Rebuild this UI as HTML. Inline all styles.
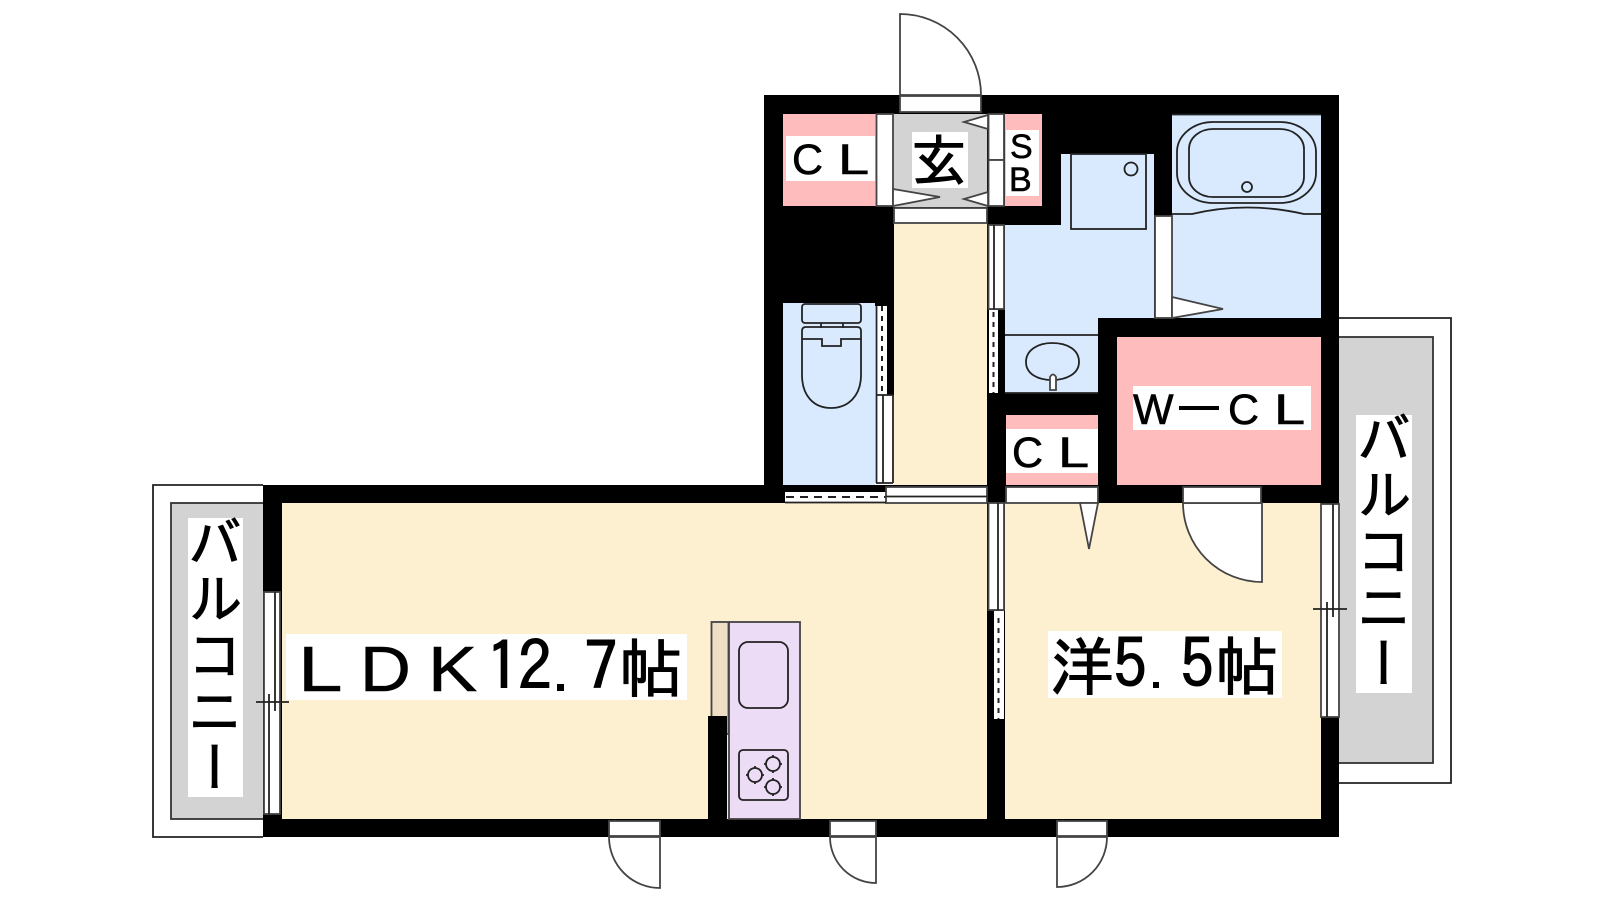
<!DOCTYPE html>
<html><head><meta charset="utf-8"><style>
html,body{margin:0;padding:0;background:#fff}
svg{display:block}
.j{font-family:"IPAGothic","Noto Sans CJK JP",sans-serif;fill:#000;stroke:#000;stroke-width:1}
.l{font-family:"Liberation Sans",sans-serif;fill:#000;stroke:#000;stroke-width:.6}
.v{font-family:"Noto Sans CJK JP",sans-serif;font-size:54px;letter-spacing:2.5px;writing-mode:vertical-rl;fill:#000;stroke:#000;stroke-width:1}
.s{fill:none;stroke:#222;stroke-width:1.8}
.w{fill:#fff;stroke:#444;stroke-width:1.8}
</style></head><body>
<svg width="1600" height="900" viewBox="0 0 1600 900" xmlns="http://www.w3.org/2000/svg">
<rect width="1600" height="900" fill="#fff"/>

<!-- balconies -->
<path class="s" stroke="#555" d="M263 485H153V837H263"/>
<rect x="171" y="503" width="95" height="316" fill="#d3d3d3" stroke="#333" stroke-width="1.8"/>
<path class="s" d="M1339 318H1451V783H1339"/>
<rect x="1336" y="337" width="97" height="426" fill="#d3d3d3" stroke="#333" stroke-width="1.8"/>

<!-- black building -->
<rect x="764" y="95" width="575" height="410" fill="#000"/>
<rect x="263" y="485" width="1076" height="352" fill="#000"/>

<!-- rooms -->
<rect x="282" y="503" width="705" height="316" fill="#fdf0d0"/>
<rect x="1005" y="503" width="316" height="316" fill="#fdf0d0"/>
<rect x="894" y="223" width="93" height="262" fill="#fdf0d0"/>
<rect x="783" y="303" width="92" height="182" fill="#d9eaff"/>
<path fill="#d9eaff" d="M1061 154H1154V318H1098V393H1005V225H1061Z"/>
<rect x="1172" y="114" width="149" height="204" fill="#d9eaff"/>
<rect x="783" y="114" width="93" height="92" fill="#ffbcbc"/>
<rect x="1005" y="114" width="37" height="92" fill="#ffbcbc"/>
<rect x="1117" y="337" width="204" height="148" fill="#ffbcbc"/>
<rect x="1006" y="415" width="92" height="70" fill="#ffbcbc"/>
<rect x="893" y="114" width="94" height="93" fill="#d3d3d3"/>
<path class="s" stroke="#555" d="M1172 114.500H1321"/>

<!-- entrance -->
<path class="w" stroke="#222" d="M900 95V14A81 81 0 0 1 981 95Z"/>
<rect class="w" x="900" y="96" width="81" height="16"/>
<rect class="w" x="894" y="208" width="93" height="15"/>
<rect class="w" x="876.500" y="114" width="16.500" height="92"/>
<rect class="w" x="988.500" y="114" width="15.500" height="46"/>
<rect class="w" x="988.500" y="160" width="15.500" height="46"/>
<path class="w" stroke="#222" d="M988 115L964 122L988 129Z"/>
<path class="w" stroke="#222" d="M988 192L964 199L988 206Z"/>
<path class="w" stroke="#222" d="M893 189L940 197L893 206Z"/>

<!-- wash door / corridor right -->
<rect x="987" y="225" width="18" height="168" fill="#000"/>
<rect class="w" x="988.500" y="225" width="15.500" height="84"/>
<path class="s" d="M994 225V309"/>
<rect x="989" y="310" width="9" height="83" fill="#fff"/>
<path d="M993.500 312V393" stroke="#222" stroke-width="2" stroke-dasharray="5 5" fill="none"/>

<!-- bath door -->
<rect class="w" x="1155" y="216" width="17" height="102"/>
<path class="w" stroke="#222" d="M1172 297L1223 309L1172 318Z"/>

<!-- washer -->
<rect class="s" x="1071" y="154" width="75" height="75"/>
<circle class="s" cx="1131" cy="169" r="6.500"/>

<!-- bathtub -->
<rect class="s" x="1177" y="122" width="139" height="81" rx="36" ry="30"/>
<rect class="s" x="1189" y="129" width="115" height="68" rx="24" ry="20"/>
<circle class="s" cx="1247" cy="187" r="5"/>
<path class="s" d="M1172 214H1192Q1247 201 1304 214H1321"/>

<!-- sink -->
<path class="s" d="M1005 335H1098"/>
<path class="s" d="M1005 393H1098" stroke="#666"/>
<path class="s" d="M1026 362C1026 350 1038 343 1052 343C1068 343 1079 350 1079 362C1079 374 1066 380 1052 380C1038 380 1026 374 1026 362Z"/>
<path class="w" stroke="#222" d="M1050 390V377Q1053 372 1056 377V390Z"/>
<rect x="1005" y="395" width="93" height="20" fill="#000"/>

<!-- toilet -->
<rect class="s" x="802" y="304" width="59" height="19" rx="3"/>
<path class="s" d="M821 323V328M843 323V328"/>
<path class="s" d="M802 331Q802 327 806 327H857Q861 327 861 331V375C861 396 848 408 831 408C814 408 802 396 802 375Z"/>
<path class="s" d="M802 339H822V346H841V339H861"/>

<!-- toilet door -->
<rect x="875" y="306" width="19" height="179" fill="#fff"/>
<rect x="887" y="306" width="7" height="89" fill="#000"/>
<path d="M882 306V395" stroke="#222" stroke-width="2" stroke-dasharray="5 5" fill="none"/>
<path class="s" d="M876.500 306V483M883 395V483M893 395V483M876 395H893M876 483H893"/>

<!-- horizontal doors -->
<rect x="785" y="492" width="101" height="10" fill="#fff"/>
<path d="M786 497H886" stroke="#222" stroke-width="2" stroke-dasharray="8 6" fill="none"/>
<rect class="w" x="886" y="487" width="101" height="16"/>
<path class="s" d="M886 496.500H987M785 502.500H886"/>
<rect class="w" x="1006" y="487" width="92" height="16"/>
<path class="w" stroke="#222" d="M1080 503L1098 503L1089 549Z"/>
<path d="M1183 503H1262V582A79 79 0 0 1 1183 503Z" class="w" stroke="#222"/>
<rect class="w" x="1183" y="487" width="78" height="16"/>

<!-- corridor to room vertical -->
<rect x="987" y="503" width="18" height="316" fill="#000"/>
<rect class="w" x="988.500" y="503" width="15.500" height="107"/>
<path class="s" d="M998 503V610"/>
<rect x="994" y="611" width="10" height="108" fill="#fff"/>
<path d="M998.500 618V719" stroke="#222" stroke-width="2" stroke-dasharray="5 5" fill="none"/>

<!-- left window -->
<rect class="w" x="264" y="592" width="16" height="222" fill="#fff"/>
<path class="s" d="M275 592V711M269 694V814M256 702H289"/>
<!-- right window -->
<rect class="w" x="1321" y="504" width="18" height="213" fill="#fff"/>
<path class="s" d="M1333 504V617M1327 602V717M1313 609H1347"/>

<!-- kitchen -->
<rect x="711.500" y="622" width="17" height="112" fill="#eedec6" stroke="#444" stroke-width="1.800"/>
<rect x="729" y="622" width="71" height="197" fill="#ecdcf5" stroke="#444" stroke-width="1.800"/>
<rect x="708" y="716" width="19" height="103" fill="#000"/>
<rect class="s" x="739" y="642" width="49" height="66" rx="9"/>
<rect class="s" x="739" y="750" width="49" height="50" rx="4"/>
<g class="s">
<circle cx="755" cy="775" r="7"/><path d="M746 775H764M755 766V784" stroke-dasharray="2 14"/>
<circle cx="773" cy="764" r="7"/><path d="M764 764H782M773 755V773" stroke-dasharray="2 14"/>
<circle cx="773" cy="787" r="7"/><path d="M764 787H782M773 778V796" stroke-dasharray="2 14"/>
</g>

<!-- bottom doors -->
<rect class="w" x="609" y="821" width="51" height="15"/>
<path class="w" stroke="#222" d="M609 837H660V888A51 51 0 0 1 609 837Z"/>
<rect class="w" x="830" y="821" width="46" height="15"/>
<path class="w" stroke="#222" d="M830 837H876V883A46 46 0 0 1 830 837Z"/>
<rect class="w" x="1057" y="821" width="50" height="15"/>
<path class="w" stroke="#222" d="M1057 837H1107A50 50 0 0 1 1057 887Z"/>

<!-- label backgrounds -->
<g fill="#fff">
<rect x="786" y="136" width="89" height="45"/>
<rect x="912" y="132" width="56" height="56"/>
<rect x="1006" y="130" width="33" height="66"/>
<rect x="1133" y="386" width="178" height="44"/>
<rect x="1006" y="429" width="92" height="44"/>
<rect x="188" y="518" width="55" height="279"/>
<rect x="1356" y="415" width="56" height="278"/>
<rect x="286" y="634" width="401" height="66"/>
<rect x="1048" y="631" width="234" height="67"/>
</g>

<!-- labels -->
<text class="l" font-size="43" x="792" y="174">C</text>
<text class="l" font-size="43" transform="translate(838 174) scale(1.3 1)">L</text>
<text class="j" font-size="56" x="911" y="181">玄</text>
<text class="l" font-size="34" x="1010" y="158">S</text>
<text class="l" font-size="34" x="1009" y="191">B</text>
<text class="l" font-size="43" x="1133" y="424">W</text>
<rect x="1179" y="406" width="40" height="4" fill="#000"/>
<text class="l" font-size="43" x="1228" y="424">C</text>
<text class="l" font-size="43" transform="translate(1274 424) scale(1.3 1)">L</text>
<text class="l" font-size="43" x="1012" y="467">C</text>
<text class="l" font-size="43" transform="translate(1058 467) scale(1.3 1)">L</text>

<text class="l" font-size="64" transform="translate(298 691) scale(1.25 1)">L</text>
<text class="l" font-size="64" transform="translate(360 691) scale(1.1 1)">D</text>
<text class="l" font-size="64" transform="translate(428 691) scale(1.15 1)">K</text>
<text class="j" font-size="68" x="486 518" y="691" textLength="64">12</text>
<rect x="557" y="684" width="7" height="7" fill="#000"/>
<text class="j" font-size="68" x="584" y="691">7</text>
<text class="j" font-size="64" x="619" y="692">帖</text>

<text class="j" font-size="64" x="1050" y="690">洋</text>
<text class="j" font-size="68" x="1113" y="688">5</text>
<rect x="1153" y="682" width="6" height="6" fill="#000"/>
<text class="j" font-size="68" x="1180" y="688">5</text>
<text class="j" font-size="64" x="1215" y="690">帖</text>

<text class="v" x="215" y="514">バルコニー</text>
<text class="v" x="1384" y="410">バルコニー</text>
</svg>
</body></html>
